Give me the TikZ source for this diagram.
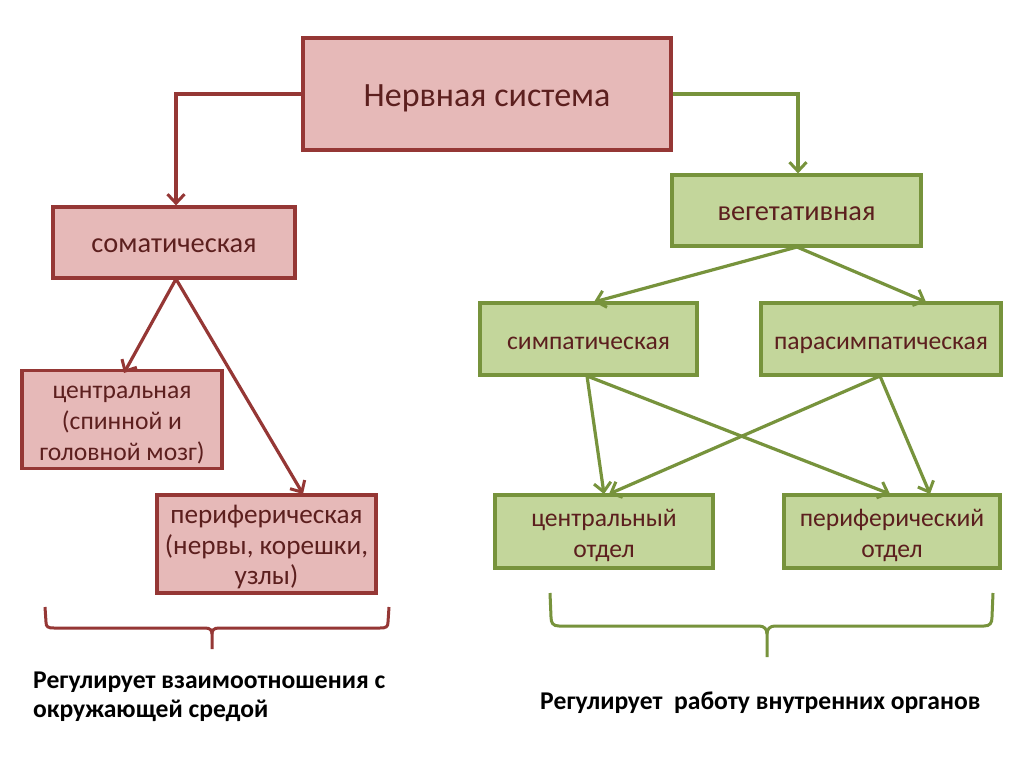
\documentclass[tikz,border=0pt]{standalone}
\usepackage{fontspec}
\setmainfont{Carlito}
\usetikzlibrary{arrows.meta}
\definecolor{redfill}{HTML}{E6B9B8}
\definecolor{redline}{HTML}{953735}
\definecolor{greenfill}{HTML}{C3D69B}
\definecolor{greenline}{HTML}{77933C}
\definecolor{txt}{HTML}{5C1F1E}
\newcommand\hstr{\rule{0pt}{28pt}}
\newcommand\dstr{\rule[-8pt]{0pt}{8pt}}
\tikzset{
  small/.style={font=\fontsize{25.6}{31}\selectfont},
  large/.style={font=\fontsize{28.4}{31}\selectfont},
  redbox/.style={draw=redline, fill=redfill, line width=3.2pt, inner sep=0pt, text=txt, align=center},
  greenbox/.style={draw=greenline, fill=greenfill, line width=3.2pt, inner sep=0pt, text=txt, align=center},
  redarrow/.style={draw=redline, line width=3.2pt, -{Straight Barb[length=9pt,width=17pt,line width=3pt]}},
  greenarrow/.style={draw=greenline, line width=3.2pt, -{Straight Barb[length=9pt,width=17pt,line width=3pt]}},
  note/.style={font=\bfseries\fontsize{25.6}{29}\selectfont, align=left, inner sep=0pt}
}
\begin{document}
\begin{tikzpicture}[x=1pt,y=-1pt]
\useasboundingbox[fill=white] (0,0) rectangle (1024,767);
% boxes
\node[redbox, minimum width=368pt, minimum height=112pt, font=\fontsize{34}{40}\selectfont] (ns) at (487,94) {\rule{0pt}{34.4pt}Нервная система\rule[-9pt]{0pt}{9pt}};
\node[redbox, large, minimum width=242pt, minimum height=71pt] (som) at (174,242.5) {\hstr соматическая\dstr};
\node[redbox, small, minimum width=200pt, minimum height=91pt] (cen) at (122,419.5) {\hstr центральная\\(спинной и\\головной мозг)\dstr};
\node[redbox, font=\fontsize{27.2}{30.5}\selectfont, minimum width=219pt, minimum height=98pt] (per) at (266.5,544) {\hstr периферическая\\(нервы, корешки,\\узлы)\dstr};
\node[greenbox, large, minimum width=249pt, minimum height=71pt] (veg) at (796.5,210.5) {\hstr вегетативная\dstr};
\node[greenbox, small, minimum width=217pt, minimum height=72pt] (sym) at (588.5,339) {\hstr симпатическая\dstr};
\node[greenbox, small, minimum width=240pt, minimum height=72pt] (par) at (881,339) {\hstr парасимпатическая\dstr};
\node[greenbox, small, minimum width=218pt, minimum height=73pt] (cd) at (604,531.5) {\hstr центральный\\отдел\dstr};
\node[greenbox, small, minimum width=216pt, minimum height=73pt] (pd) at (892,531.5) {\hstr периферический\\отдел\dstr};
% coordinates
\coordinate (c1) at (176,94);
\coordinate (c2) at (798,94);
% connectors
\draw[redarrow] (ns.west) -- (c1) -- (som.north -| c1);
\draw[greenarrow] (ns.east) -- (c2) -- (veg.north -| c2);
\coordinate (somB) at (176,279);
\coordinate (cenT) at (124,373);
\coordinate (perT) at (303,494);
\draw[redarrow] (somB) -- (cenT);
\draw[redarrow] (somB) -- (perT);
\coordinate (vegB) at (797,247);
\coordinate (symT) at (594,302);
\coordinate (parT) at (926,302);
\draw[greenarrow] (vegB) -- (symT);
\draw[greenarrow] (vegB) -- (parT);
\coordinate (symB) at (587,376);
\coordinate (parB) at (880,376);
\coordinate (cdT1) at (604,494);
\coordinate (cdT2) at (609,494);
\coordinate (pdT1) at (890,494);
\coordinate (pdT2) at (930,494);
\draw[greenarrow] (symB) -- (cdT1);
\draw[greenarrow] (symB) -- (pdT1);
\draw[greenarrow] (parB) -- (cdT2);
\draw[greenarrow] (parB) -- (pdT2);
% braces
\draw[redline, line width=3pt] (45,607) -- (46,622) .. controls (46,627) and (48,628) .. (54,628) -- (205,628) .. controls (210,628) and (212,630) .. (212,634) -- (212,649);
\draw[redline, line width=3pt] (389,607) -- (388,622) .. controls (388,627) and (386,628) .. (380,628) -- (219,628) .. controls (214,628) and (212,630) .. (212,634);
\draw[greenline, line width=3pt] (550,593) -- (551,617) .. controls (551,623) and (553,626) .. (559,626) -- (759,626) .. controls (764,626) and (767,629) .. (767,634) -- (767,657);
\draw[greenline, line width=3pt] (993,593) -- (992,617) .. controls (992,623) and (990,626) .. (984,626) -- (775,626) .. controls (770,626) and (767,629) .. (767,634);
% notes
\node[note, anchor=base west] (n1) at (33,717) {Регулирует взаимоотношения с\\окружающей средой};
\node[note, anchor=base west] (n2) at (540,709) {Регулирует\ \ работу внутренних органов};
\end{tikzpicture}
\end{document}
